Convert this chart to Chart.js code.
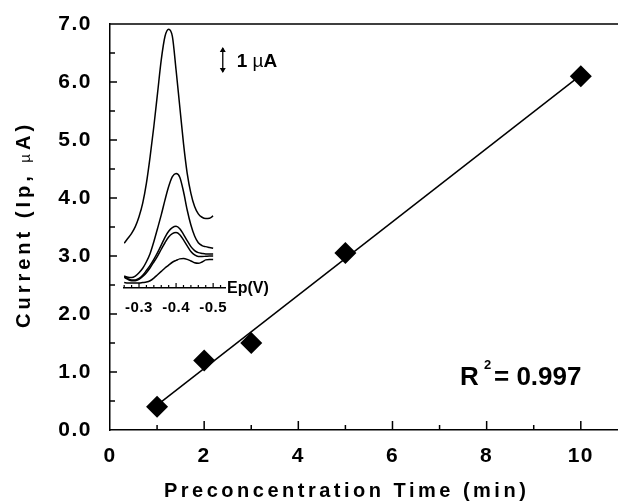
<!DOCTYPE html>
<html>
<head>
<meta charset="utf-8">
<script src="https://cdn.jsdelivr.net/npm/chart.js@4.4.0/dist/chart.umd.min.js"></script>
<style>
html, body { margin: 0; padding: 0; background: #fff; overflow: hidden; }
#wrap { position: relative; width: 618px; height: 502px; }
#main { position: absolute; left: 0; top: 0; }
#inset { position: absolute; left: 110px; top: 20px; }
</style>
</head>
<body>
<div id="wrap">
  <canvas id="main" width="618" height="502"></canvas>
  <canvas id="inset" width="200" height="300"></canvas>
</div>
<script>
// main plot: peak current vs preconcentration time
var timeMin = [1, 2, 3, 5, 10];
var peakCurrent = [0.4, 1.2, 1.5, 3.05, 6.1];
var fitTime = [1, 10];
var fitCurrent = [0.43, 6.12];
var xTickLabels = ['0', '2', '4', '6', '8', '10'];
var yTickLabels = ['0.0', '1.0', '2.0', '3.0', '4.0', '5.0', '6.0', '7.0'];

// inset: voltammograms (uA) against potential (V)
var potential = [-0.26, -0.27, -0.28, -0.29, -0.30, -0.31, -0.32, -0.33, -0.34, -0.35, -0.36, -0.37, -0.38,
                 -0.39, -0.40, -0.41, -0.42, -0.43, -0.44, -0.45, -0.46, -0.47, -0.48, -0.49, -0.50];
var scan10 = [1.72, 1.91, 2.10, 2.36, 2.74, 3.26, 4.03, 5.05, 6.21, 7.49, 8.77, 9.67, 9.95,
              9.67, 8.38, 6.97, 5.56, 4.41, 3.64, 3.13, 2.85, 2.72, 2.67, 2.68, 2.77];
var scan5 = [0.46, 0.41, 0.40, 0.46, 0.59, 0.76, 1.01, 1.33, 1.78, 2.29, 2.81, 3.38, 3.90,
             4.28, 4.40, 4.26, 3.71, 3.00, 2.42, 2.00, 1.74, 1.63, 1.59, 1.56, 1.53];
var scan3 = [0.44, 0.36, 0.31, 0.31, 0.37, 0.49, 0.67, 0.87, 1.10, 1.36, 1.65, 1.95, 2.18,
             2.32, 2.37, 2.28, 2.06, 1.82, 1.59, 1.44, 1.36, 1.33, 1.31, 1.31, 1.31];
var scan2 = [0.41, 0.33, 0.28, 0.28, 0.33, 0.44, 0.59, 0.78, 1.00, 1.23, 1.49, 1.74, 1.96,
             2.09, 2.13, 2.05, 1.85, 1.62, 1.40, 1.27, 1.21, 1.21, 1.22, 1.23, 1.23];
var scan1 = [0.21, 0.19, 0.19, 0.19, 0.19, 0.21, 0.23, 0.28, 0.38, 0.51, 0.64, 0.77, 0.88,
             0.99, 1.06, 1.12, 1.13, 1.10, 1.04, 0.97, 0.95, 1.00, 1.08, 1.10, 1.10];
var insetTickLabels = ['-0.3', '-0.4', '-0.5'];
var scaleBar = [8.27, 9.27];

var FONT = '"Liberation Sans", Arial, Helvetica, sans-serif';

function pairs(xs, ys) {
    return xs.map(function(x, i){ return {x: x, y: ys[i]}; });
}

function noPad(s) {
    s.paddingLeft = 0; s.paddingRight = 0;
    s.paddingTop = 0; s.paddingBottom = 0;
}

var mainDecor = {
    id: 'mainDecor',
    beforeDraw: function(chart) {
        //slightly spaced tick labels like the original print
        chart.ctx.letterSpacing = '1.5px';
    },
    afterDraw: function(chart) {
        var ctx = chart.ctx, a = chart.chartArea;
        var xs = chart.scales.x, ys = chart.scales.y;
        ctx.save();
        ctx.strokeStyle = '#000';
        ctx.lineWidth = 1.5;
        ctx.beginPath();
        //top frame line
        ctx.moveTo(a.left, a.top);
        ctx.lineTo(a.right, a.top);
        //inward ticks
        for (var v = 1; v <= 10; v++) {
            var px = xs.getPixelForValue(v);
            ctx.moveTo(px, a.bottom);
            ctx.lineTo(px, a.bottom - (v % 2 ? 5 : 9));
        }
        for (var w = 0.5; w < 7; w += 0.5) {
            var py = ys.getPixelForValue(w);
            ctx.moveTo(a.left, py);
            ctx.lineTo(a.left + (w % 1 ? 5 : 7), py);
        }
        ctx.stroke();

        ctx.fillStyle = '#000';
        ctx.textAlign = 'left';
        ctx.textBaseline = 'alphabetic';

        //x title
        ctx.font = 'bold 20px ' + FONT;
        ctx.letterSpacing = '3.5px';
        ctx.fillText('Preconcentration Time (min)', 164, 497);

        //y title, rotated
        ctx.save();
        ctx.translate(30, 328);
        ctx.rotate(-Math.PI / 2);
        ctx.letterSpacing = '4px';
        var parts = [['Current (Ip, ', 'bold 20px '], ['\u00b5', '15px '], ['A)', 'bold 20px ']];
        var cx = 0;
        parts.forEach(function(p){
            ctx.font = p[1] + FONT;
            ctx.fillText(p[0], cx, 0);
            cx += ctx.measureText(p[0]).width;
        });
        ctx.restore();

        //R squared
        ctx.letterSpacing = '0px';
        ctx.font = 'bold 26px ' + FONT;
        ctx.fillText('R', 460, 385);
        ctx.font = 'bold 13px ' + FONT;
        ctx.fillText('2', 484, 369);
        ctx.font = 'bold 26px ' + FONT;
        ctx.fillText('= 0.997', 494, 385);
        ctx.restore();
        ctx.letterSpacing = '0px';
    }
};

var insetDecor = {
    id: 'insetDecor',
    beforeDraw: function(chart) {
        chart.ctx.letterSpacing = '0.5px';
    },
    afterDraw: function(chart) {
        var ctx = chart.ctx, a = chart.chartArea;
        var xs = chart.scales.x, ys = chart.scales.y;
        ctx.save();
        ctx.letterSpacing = '0px';
        ctx.strokeStyle = '#000';
        ctx.fillStyle = '#000';
        ctx.lineWidth = 1.2;
        ctx.beginPath();
        for (var k = 13; k <= 26; k++) {
            var px = xs.getPixelForValue(-k * 0.02);
            ctx.moveTo(px, a.bottom);
            ctx.lineTo(px, a.bottom - (k % 5 ? 3 : 5));
        }
        ctx.stroke();

        //axis name at the end of the axis
        ctx.font = 'bold 16px ' + FONT;
        ctx.textBaseline = 'middle';
        ctx.textAlign = 'left';
        ctx.fillText('Ep(V)', a.right + 2, a.bottom + 1);

        //1 uA scale bar
        var bx = xs.getPixelForValue(-0.526);
        var y0 = ys.getPixelForValue(scaleBar[0]);
        var y1 = ys.getPixelForValue(scaleBar[1]);
        ctx.lineWidth = 1.3;
        ctx.beginPath();
        ctx.moveTo(bx, y0 - 1);
        ctx.lineTo(bx, y1 + 1);
        ctx.stroke();
        ctx.beginPath();
        ctx.moveTo(bx, y1); ctx.lineTo(bx - 3, y1 + 5); ctx.lineTo(bx + 3, y1 + 5); ctx.closePath();
        ctx.moveTo(bx, y0); ctx.lineTo(bx - 3, y0 - 5); ctx.lineTo(bx + 3, y0 - 5); ctx.closePath();
        ctx.fill();

        ctx.textBaseline = 'alphabetic';
        var ty = (y0 + y1) / 2 + 7;
        var tx = bx + 14;
        var parts = [['1 ', 'bold 19px '], ['\u00b5', '19px '], ['A', 'bold 19px ']];
        parts.forEach(function(p){
            ctx.font = p[1] + FONT;
            ctx.fillText(p[0], tx, ty);
            tx += ctx.measureText(p[0]).width;
        });
        ctx.restore();
    }
};

new Chart(document.getElementById('main'), {
    type: 'scatter',
    data: {
        datasets: [{
            label: 'fit',
            data: pairs(fitTime, fitCurrent),
            showLine: true,
            borderColor: '#000',
            borderWidth: 1.5,
            pointRadius: 0,
            order: 2
        }, {
            label: 'Ip',
            data: pairs(timeMin, peakCurrent),
            pointStyle: 'rectRot',
            pointRadius: 11,
            backgroundColor: '#000',
            borderColor: '#000',
            borderWidth: 0,
            order: 1
        }]
    },
    options: {
        responsive: false,
        animation: false,
        layout: { autoPadding: false, padding: { top: 24, left: 0, right: 0, bottom: 0 } },
        plugins: { legend: { display: false }, tooltip: { enabled: false } },
        scales: {
            x: {
                type: 'linear',
                min: 0,
                max: 10.79,
                border: { color: '#000', width: 1.5 },
                grid: { display: false, drawTicks: false },
                ticks: {
                    stepSize: 2,
                    includeBounds: false,
                    padding: 14,
                    color: '#000',
                    font: { family: FONT, size: 21, weight: 'bold' },
                    callback: function(v){ return xTickLabels[v / 2]; }
                },
                afterFit: function(s){ s.height = 72; noPad(s); }
            },
            y: {
                min: 0,
                max: 7,
                border: { color: '#000', width: 1.5 },
                grid: { display: false, drawTicks: false },
                ticks: {
                    stepSize: 1,
                    padding: 18,
                    color: '#000',
                    font: { family: FONT, size: 21, weight: 'bold' },
                    callback: function(v){ return yTickLabels[v]; }
                },
                afterFit: function(s){ s.width = 110; noPad(s); }
            }
        }
    },
    plugins: [mainDecor]
});

var scans = [scan10, scan5, scan3, scan2, scan1];
new Chart(document.getElementById('inset'), {
    type: 'line',
    data: {
        datasets: scans.map(function(s, i){
            return { label: 'scan' + i, data: pairs(potential, s) };
        })
    },
    options: {
        responsive: false,
        animation: false,
        layout: { autoPadding: false, padding: { top: 4, left: 14, right: 85, bottom: 0 } },
        elements: {
            point: { radius: 0 },
            line: { borderColor: '#000', borderWidth: 1.5, fill: false, cubicInterpolationMode: 'monotone' }
        },
        plugins: { legend: { display: false }, tooltip: { enabled: false } },
        scales: {
            x: {
                type: 'linear',
                reverse: true,
                min: -0.532,
                max: -0.2595,
                border: { color: '#000', width: 1.5 },
                grid: { display: false, drawTicks: false },
                ticks: {
                    stepSize: 0.1,
                    includeBounds: false,
                    padding: 11,
                    color: '#000',
                    font: { family: FONT, size: 15, weight: 'bold' },
                    callback: function(v){
                        var i = Math.round(-v * 10) - 3;
                        return insetTickLabels[i] || '';
                    }
                },
                afterFit: function(s){ s.height = 32; noPad(s); }
            },
            y: { display: false, min: 0, max: 10.15 }
        }
    },
    plugins: [insetDecor]
});
</script>
</body>
</html>
